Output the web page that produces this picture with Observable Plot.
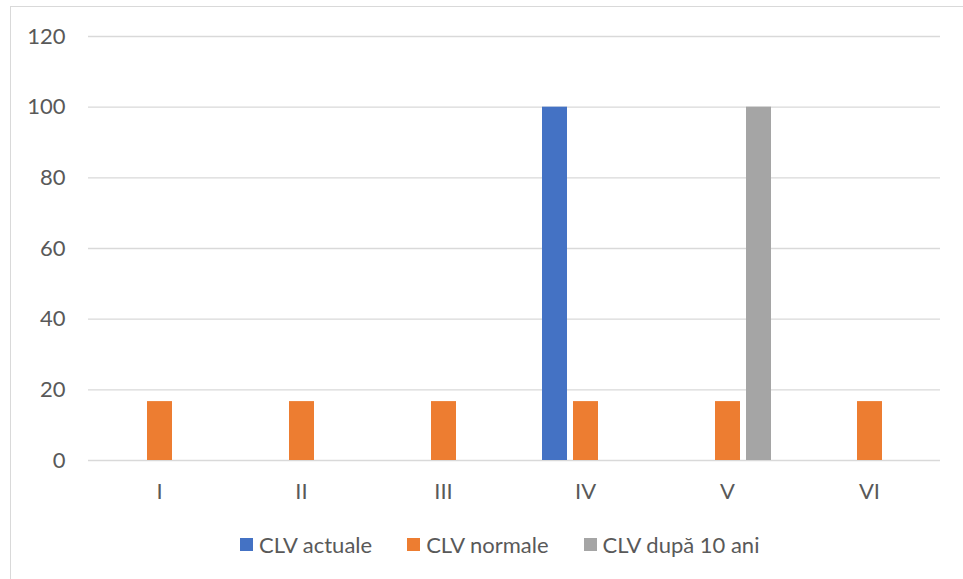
<!DOCTYPE html>
<html>
<head>
<meta charset="utf-8">
<script src="https://cdn.jsdelivr.net/npm/d3@7"></script>
<script src="https://cdn.jsdelivr.net/npm/@observablehq/plot@0.6"></script>
<style>
  html, body { margin: 0; padding: 0; background: #fff; overflow: hidden; width: 963px; height: 579px; }
  #frame { position: absolute; left: 10px; top: 6px; width: 1000px; height: 620px; border: 1px solid #d9d9d9; box-sizing: border-box; }
  #chart { position: absolute; left: 0; top: 0; }
  #legend { position: absolute; left: 240px; top: 530px; height: 28px; display: flex; align-items: center; font-family: Lato, "Open Sans", sans-serif; font-size: 22px; color: #595959; white-space: nowrap; }
  .item { display: flex; align-items: center; margin-right: 35px; }
  .sw { width: 13px; height: 13px; margin-right: 6px; }
</style>
</head>
<body>
<div id="frame"></div>
<div id="chart"></div>
<div id="legend"></div>
<script>
const categories = ["I", "II", "III", "IV", "V", "VI"];
const series = ["CLV actuale", "CLV normale", "CLV după 10 ani"];
const clvActuale = [0, 0, 0, 100, 0, 0];
const clvNormale = [16.67, 16.67, 16.67, 16.67, 16.67, 16.67];
const clvDupa10 = [0, 0, 0, 0, 100, 0];
const colors = ["#4472c4", "#ed7d31", "#a5a5a5"];
const yTicks = [0, 20, 40, 60, 80, 100, 120];

const seriesValues = [clvActuale, clvNormale, clvDupa10];
const data = categories.flatMap((c, i) =>
  series.map((s, j) => ({cat: c, series: s, value: seriesValues[j][i]}))
);

const chart = Plot.plot({
  width: 963,
  height: 510,
  marginLeft: 86,
  marginRight: 22,
  marginTop: 36,
  marginBottom: 50,
  style: {fontFamily: "Lato, 'Open Sans', sans-serif", fontSize: "22px", color: "#595959", background: "transparent"},
  fx: {domain: categories, padding: 0, label: null},
  x: {domain: series, paddingInner: 0.206, paddingOuter: 0.865, axis: null},
  y: {domain: [0, 120], label: null},
  color: {domain: series, range: colors},
  marks: [
    Plot.ruleY(yTicks, {stroke: "#d9d9d9", strokeWidth: 1.3}),
    Plot.barY(data, {fx: "cat", x: "series", y: "value", fill: "series", inset: 0}),
    Plot.axisY({ticks: yTicks, tickSize: 0, tickPadding: 23, label: null, fill: "#595959"}),
    Plot.axisFx({anchor: "bottom", tickSize: 0, tickPadding: 23, label: null, fill: "#595959"})
  ]
});
document.getElementById("chart").appendChild(chart);

const legend = document.getElementById("legend");
series.forEach((s, i) => {
  const item = document.createElement("div");
  item.className = "item";
  const sw = document.createElement("div");
  sw.className = "sw";
  sw.style.background = colors[i];
  const t = document.createElement("span");
  t.textContent = s;
  item.appendChild(sw);
  item.appendChild(t);
  legend.appendChild(item);
});
</script>
</body>
</html>
